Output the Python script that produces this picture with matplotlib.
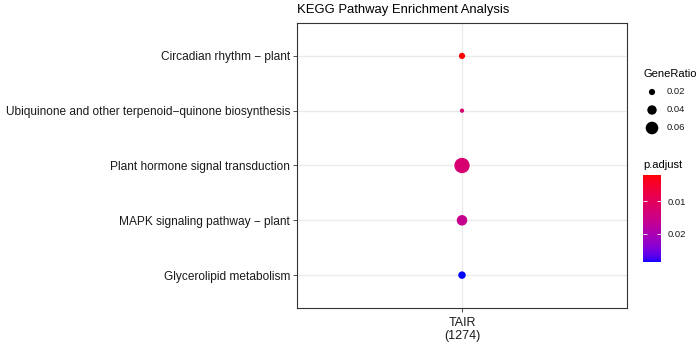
import numpy as np
import matplotlib
matplotlib.use("Agg")
import matplotlib.pyplot as plt
from matplotlib.colors import ListedColormap, Normalize
from matplotlib.colorbar import ColorbarBase

plt.rcParams['font.family'] = ['Liberation Sans', 'DejaVu Sans']

# ---- data ----
pathways = ["Glycerolipid metabolism",
            "MAPK signaling pathway \u2212 plant",
            "Plant hormone signal transduction",
            "Ubiquinone and other terpenoid\u2212quinone biosynthesis",
            "Circadian rhythm \u2212 plant"]
gene_ratio = [0.028, 0.047, 0.077, 0.008, 0.020]
p_adjust = [0.0285, 0.016, 0.0125, 0.0125, 0.0021]
cluster_label = "TAIR\n(1274)"
size_legend_values = [0.02, 0.04, 0.06]
size_legend_labels = ["0.02", "0.04", "0.06"]
color_ticks = [0.01, 0.02]
color_tick_labels = ["0.01", "0.02"]
title = "KEGG Pathway Enrichment Analysis"

W, H = 700, 342
fig = plt.figure(figsize=(7, 3.42), dpi=100)

# ---- Lab-interpolated red->blue gradient (ggplot style) ----
M = np.array([[0.4124, 0.3576, 0.1805], [0.2126, 0.7152, 0.0722], [0.0193, 0.1192, 0.9505]])
WP = np.array([0.95047, 1.0, 1.08883])

def srgb_to_lab(rgb):
    rgb = np.asarray(rgb, float)
    lin = np.where(rgb <= 0.04045, rgb / 12.92, ((rgb + 0.055) / 1.055) ** 2.4)
    t = (lin @ M.T) / WP
    f = np.where(t > (6/29) ** 3, np.cbrt(t), t / (3 * (6/29) ** 2) + 4/29)
    return np.stack([116 * f[..., 1] - 16, 500 * (f[..., 0] - f[..., 1]),
                     200 * (f[..., 1] - f[..., 2])], -1)

def lab_to_srgb(lab):
    lab = np.asarray(lab, float)
    fy = (lab[..., 0] + 16) / 116
    f = np.stack([fy + lab[..., 1] / 500, fy, fy - lab[..., 2] / 200], -1)
    t = np.where(f > 6/29, f ** 3, 3 * (6/29) ** 2 * (f - 4/29))
    lin = np.clip((t * WP) @ np.linalg.inv(M).T, 0, 1)
    rgb = np.where(lin <= 0.0031308, 12.92 * lin, 1.055 * lin ** (1/2.4) - 0.055)
    return np.clip(rgb, 0, 1)

lab_r = srgb_to_lab([1, 0, 0])
lab_b = srgb_to_lab([0, 0, 1])
tt = np.linspace(0, 1, 256)[:, None]
cmap = ListedColormap(lab_to_srgb(lab_r * (1 - tt) + lab_b * tt))
norm = Normalize(vmin=min(p_adjust), vmax=max(p_adjust))

def size_pt2(r):
    d_px = 3.0 + 160 * np.asarray(r)
    return (d_px * 0.72) ** 2

# ---- main panel ----
ax = fig.add_axes([297 / W, 1 - 308 / H, 330 / W, 285 / H])
y = np.arange(1, len(pathways) + 1)
x = np.ones(len(pathways))
ax.scatter(x, y, s=size_pt2(gene_ratio), c=cmap(norm(p_adjust)), linewidths=0, zorder=3)
ax.set_xlim(0.4, 1.6)
ax.set_ylim(0.4, len(pathways) + 0.6)
ax.set_xticks([1])
ax.set_xticklabels([cluster_label], fontsize=9, color='#1a1a1a', linespacing=1.15)
ax.set_yticks(y)
ax.set_yticklabels(pathways, fontsize=8.6, color='#1a1a1a')
ax.grid(True, color='#ebebeb', linewidth=1.0, zorder=0)
ax.set_axisbelow(True)
for sp in ax.spines.values():
    sp.set_color('#333333')
    sp.set_linewidth(0.8)
ax.tick_params(axis='y', length=3, width=0.6, color='#333333', pad=2)
ax.tick_params(axis='x', length=3, width=0.6, color='#333333', pad=3.5)
fig.text(297 / W, 1 - 10 / H, title, fontsize=9.4, ha='left', va='center', color='black')

# ---- size legend ----
fig.text(643 / W, 1 - 74 / H, "GeneRatio", fontsize=8, ha='left', va='center', color='black')
lax = fig.add_axes([643 / W, 1 - 140 / H, 20 / W, 58 / H])
lax.set_xlim(0, 20)
lax.set_ylim(140, 82)
ly = [92, 110, 128]
lax.scatter([9] * 3, ly, s=size_pt2(size_legend_values), c='black', linewidths=0)
lax.axis('off')
for yy, lab in zip(ly, size_legend_labels):
    fig.text(667 / W, 1 - yy / H, lab, fontsize=6.8, ha='left', va='center', color='#1a1a1a')

# ---- colour bar ----
fig.text(643 / W, 1 - 165 / H, "p.adjust", fontsize=8, ha='left', va='center', color='black')
cax = fig.add_axes([643 / W, 1 - 262 / H, 18 / W, 87 / H])
cb = ColorbarBase(cax, cmap=cmap, norm=norm, orientation='vertical')
cb.outline.set_visible(False)
cax.invert_yaxis()
cax.set_yticks(color_ticks)
cax.set_yticklabels(color_tick_labels, fontsize=6.8, color='#1a1a1a')
cax.yaxis.set_ticks_position('both')
cax.tick_params(axis='y', direction='in', length=3, width=0.6, color='white',
                labelleft=False, labelright=True, pad=5)

fig.savefig("out.png", dpi=100)
